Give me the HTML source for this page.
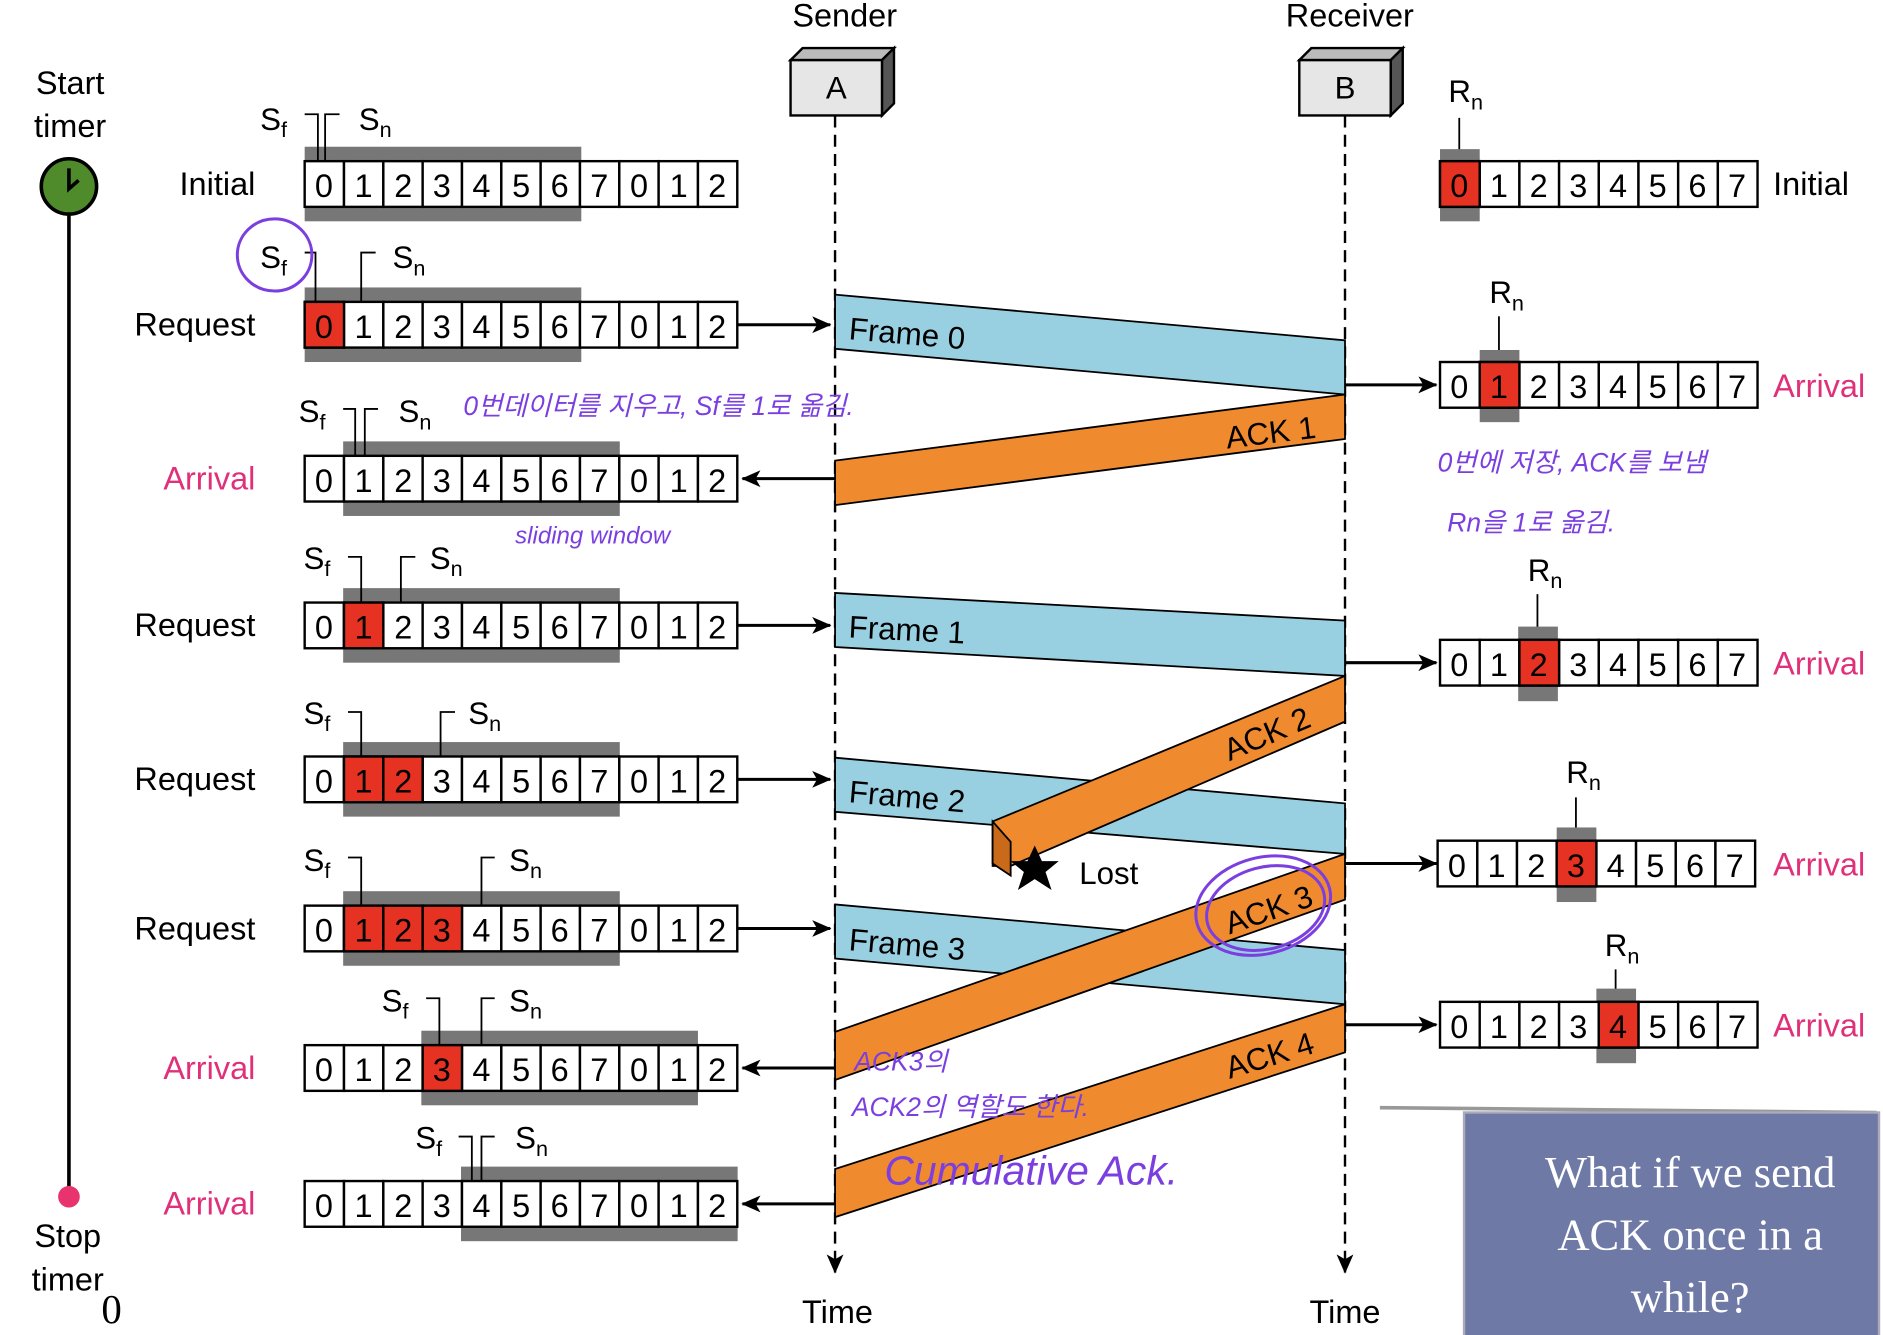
<!DOCTYPE html>
<html><head><meta charset="utf-8"><style>
html,body{margin:0;padding:0;background:#fff}
svg{display:block}
text{font-family:"Liberation Sans","Noto Sans CJK KR",sans-serif}
</style></head><body>
<svg width="1883" height="1335" viewBox="0 0 1565 1110" xmlns="http://www.w3.org/2000/svg">
<defs>
<marker id="ah2" markerWidth="16" markerHeight="14" refX="15" refY="7" orient="auto" markerUnits="userSpaceOnUse"><path d="M0,0 L16,7 L0,14 L4,7 Z" fill="#000"/></marker>
</defs>

<text x="58" y="78" font-size="27" text-anchor="middle">Start</text>
<text x="58" y="114" font-size="27" text-anchor="middle">timer</text>
<line x1="57" y1="160" x2="57" y2="995" stroke="#000" stroke-width="3"/>
<circle cx="57" cy="155" r="23" fill="#4f8a2b" stroke="#000" stroke-width="3"/>
<path d="M57,140 L57,157 L65,150" stroke="#000" stroke-width="3" fill="none"/>
<circle cx="57" cy="995" r="9" fill="#e8336f"/>
<text x="56" y="1037" font-size="27" text-anchor="middle">Stop</text>
<text x="56" y="1073" font-size="27" text-anchor="middle">timer</text>
<text x="84" y="1100" font-size="34" style="font-family:'Liberation Serif',serif">0</text>

<text x="702" y="22" font-size="27" text-anchor="middle">Sender</text>
<text x="1122" y="22" font-size="27" text-anchor="middle">Receiver</text>
<polygon points="657,50 667,40 743,40 733,50" fill="#bbb" stroke="#000" stroke-width="2"/>
<polygon points="733,50 743,40 743,86 733,96" fill="#555" stroke="#000" stroke-width="2"/>
<rect x="657" y="50" width="76" height="46" fill="#e6e6e6" stroke="#000" stroke-width="2"/>
<text x="695" y="82" font-size="26" text-anchor="middle">A</text>
<polygon points="1080,50 1090,40 1166,40 1156,50" fill="#bbb" stroke="#000" stroke-width="2"/>
<polygon points="1156,50 1166,40 1166,86 1156,96" fill="#555" stroke="#000" stroke-width="2"/>
<rect x="1080" y="50" width="76" height="46" fill="#e6e6e6" stroke="#000" stroke-width="2"/>
<text x="1118" y="82" font-size="26" text-anchor="middle">B</text>
<line x1="694" y1="96" x2="694" y2="1058" stroke="#000" stroke-width="2" stroke-dasharray="10,6" marker-end="url(#ah2)"/>
<line x1="1118" y1="96" x2="1118" y2="1058" stroke="#000" stroke-width="2" stroke-dasharray="10,6" marker-end="url(#ah2)"/>
<text x="696" y="1100" font-size="27" text-anchor="middle">Time</text>
<text x="1118" y="1100" font-size="27" text-anchor="middle">Time</text>

<g stroke="#000" stroke-width="1.5">
<polygon points="694,245 1118,283 1118,328 694,290" fill="#99d0e1"/>
<polygon points="694,493 1118,516 1118,562 694,538" fill="#99d0e1"/>
<polygon points="694,630 1118,668 1118,710 694,675" fill="#99d0e1"/>
<polygon points="694,752 1118,790 1118,835 694,797" fill="#99d0e1"/>
<polygon points="1118,328 1118,365 694,420 694,383" fill="#f08a2e"/>
<polygon points="1118,562 1118,600 840,720 825,720 825,683" fill="#f08a2e"/>
<polygon points="825,683 840,700 840,728 825,718" fill="#c86a1a"/>
<polygon points="1118,710 1118,748 694,898 694,858" fill="#f08a2e"/>
<polygon points="1118,835 1118,875 694,1012 694,972" fill="#f08a2e"/>
</g>
<g font-size="26">
<text x="705" y="282" transform="rotate(5 705 282)">Frame 0</text>
<text x="705" y="530" transform="rotate(3 705 530)">Frame 1</text>
<text x="705" y="667" transform="rotate(5 705 667)">Frame 2</text>
<text x="705" y="790" transform="rotate(5 705 790)">Frame 3</text>
<text x="1020" y="373" transform="rotate(-7 1020 373)">ACK 1</text>
<text x="1022" y="633" transform="rotate(-23 1022 633)">ACK 2</text>
<text x="1022" y="777" transform="rotate(-19 1022 777)">ACK 3</text>
<text x="1022" y="897" transform="rotate(-17 1022 897)">ACK 4</text>
<text x="897" y="735">Lost</text>
</g>
<polygon points="860,703 866,716 880,716 869,725 874,740 860,731 846,740 851,725 840,716 854,716" fill="#000"/>

<g fill="#777">
<rect x="253" y="122" width="230" height="62"/>
<rect x="253" y="239" width="230" height="62"/>
<rect x="285" y="367" width="230" height="62"/>
<rect x="285" y="489" width="230" height="62"/>
<rect x="285" y="617" width="230" height="62"/>
<rect x="285" y="741" width="230" height="62"/>
<rect x="350" y="857" width="230" height="62"/>
<rect x="383" y="970" width="230" height="62"/>
</g>

<g stroke="#000" stroke-width="2.5">
<line x1="613" y1="270" x2="690" y2="270" marker-end="url(#ah2)"/>
<line x1="613" y1="520" x2="690" y2="520" marker-end="url(#ah2)"/>
<line x1="613" y1="648" x2="690" y2="648" marker-end="url(#ah2)"/>
<line x1="613" y1="772" x2="690" y2="772" marker-end="url(#ah2)"/>
<line x1="694" y1="398" x2="617" y2="398" marker-end="url(#ah2)"/>
<line x1="694" y1="888" x2="617" y2="888" marker-end="url(#ah2)"/>
<line x1="694" y1="1001" x2="617" y2="1001" marker-end="url(#ah2)"/>
<line x1="1118" y1="320" x2="1194" y2="320" marker-end="url(#ah2)"/>
<line x1="1118" y1="551" x2="1194" y2="551" marker-end="url(#ah2)"/>
<line x1="1118" y1="718" x2="1194" y2="718" marker-end="url(#ah2)"/>
<line x1="1118" y1="852" x2="1194" y2="852" marker-end="url(#ah2)"/>
</g>

<g font-size="27" text-anchor="end">
<text x="212" y="162">Initial</text>
<text x="212" y="279">Request</text>
<text x="212" y="407" fill="#e0307a">Arrival</text>
<text x="212" y="529">Request</text>
<text x="212" y="657">Request</text>
<text x="212" y="781">Request</text>
<text x="212" y="897" fill="#e0307a">Arrival</text>
<text x="212" y="1010" fill="#e0307a">Arrival</text>
</g>
<g font-size="27">
<text x="1474" y="162">Initial</text>
<text x="1474" y="330" fill="#e0307a">Arrival</text>
<text x="1474" y="561" fill="#e0307a">Arrival</text>
<text x="1474" y="728" fill="#e0307a">Arrival</text>
<text x="1474" y="862" fill="#e0307a">Arrival</text>
</g>

<g font-size="26" stroke="#000" stroke-width="1.5" fill="none">
<path d="M253,95 H264 V133 M270,133 V95 H282"/>
<path d="M253,210 H262 V251 M300,251 V210 H312"/>
<path d="M285,340 H295 V379 M303,379 V340 H314"/>
<path d="M289,463 H300 V501 M333,501 V463 H345"/>
<path d="M289,592 H300 V629 M366,629 V592 H378"/>
<path d="M289,713 H300 V753 M400,753 V713 H411"/>
<path d="M354,830 H365 V869 M400,869 V830 H411"/>
<path d="M381,945 H392 V982 M400,982 V945 H411"/>
<path d="M1213,98 V135"/><path d="M1246,263 V302"/><path d="M1278,494 V533"/><path d="M1310,663 V700"/><path d="M1343,806 V834"/>
</g>
<g font-size="26">
<text x="216" y="108">S<tspan font-size="18" dy="6">f</tspan></text>
<text x="298" y="108">S<tspan font-size="18" dy="6">n</tspan></text>
<text x="216" y="223">S<tspan font-size="18" dy="6">f</tspan></text>
<text x="326" y="223">S<tspan font-size="18" dy="6">n</tspan></text>
<text x="248" y="351">S<tspan font-size="18" dy="6">f</tspan></text>
<text x="331" y="351">S<tspan font-size="18" dy="6">n</tspan></text>
<text x="252" y="473">S<tspan font-size="18" dy="6">f</tspan></text>
<text x="357" y="473">S<tspan font-size="18" dy="6">n</tspan></text>
<text x="252" y="602">S<tspan font-size="18" dy="6">f</tspan></text>
<text x="389" y="602">S<tspan font-size="18" dy="6">n</tspan></text>
<text x="252" y="724">S<tspan font-size="18" dy="6">f</tspan></text>
<text x="423" y="724">S<tspan font-size="18" dy="6">n</tspan></text>
<text x="317" y="841">S<tspan font-size="18" dy="6">f</tspan></text>
<text x="423" y="841">S<tspan font-size="18" dy="6">n</tspan></text>
<text x="345" y="955">S<tspan font-size="18" dy="6">f</tspan></text>
<text x="428" y="955">S<tspan font-size="18" dy="6">n</tspan></text>
<text x="1204" y="85">R<tspan font-size="18" dy="6">n</tspan></text>
<text x="1238" y="252">R<tspan font-size="18" dy="6">n</tspan></text>
<text x="1270" y="483">R<tspan font-size="18" dy="6">n</tspan></text>
<text x="1302" y="651">R<tspan font-size="18" dy="6">n</tspan></text>
<text x="1334" y="795">R<tspan font-size="18" dy="6">n</tspan></text>
</g>

<g fill="#777">
<rect x="1197" y="124" width="33" height="60"/>
<rect x="1230" y="291" width="33" height="60"/>
<rect x="1262" y="521" width="33" height="62"/>
<rect x="1294" y="688" width="33" height="62"/>
<rect x="1327" y="822" width="33" height="62"/>
</g>

<g stroke="#000" stroke-width="2" font-size="27" text-anchor="middle">
<g transform="translate(0,134)" id="r1">
<rect x="253" width="32.7" height="38" fill="#fff"/><rect x="285.7" width="32.7" height="38" fill="#fff"/><rect x="318.4" width="32.7" height="38" fill="#fff"/><rect x="351.1" width="32.7" height="38" fill="#fff"/><rect x="383.8" width="32.7" height="38" fill="#fff"/><rect x="416.5" width="32.7" height="38" fill="#fff"/><rect x="449.2" width="32.7" height="38" fill="#fff"/><rect x="481.9" width="32.7" height="38" fill="#fff"/><rect x="514.6" width="32.7" height="38" fill="#fff"/><rect x="547.3" width="32.7" height="38" fill="#fff"/><rect x="580" width="32.7" height="38" fill="#fff"/>
<g stroke="none" fill="#000"><text x="269" y="30">0</text><text x="302" y="30">1</text><text x="335" y="30">2</text><text x="367" y="30">3</text><text x="400" y="30">4</text><text x="433" y="30">5</text><text x="465" y="30">6</text><text x="498" y="30">7</text><text x="531" y="30">0</text><text x="564" y="30">1</text><text x="596" y="30">2</text></g>
</g>
<use href="#r1" transform="translate(0,117)"/>
<use href="#r1" transform="translate(0,245)"/>
<use href="#r1" transform="translate(0,367)"/>
<use href="#r1" transform="translate(0,495)"/>
<use href="#r1" transform="translate(0,619)"/>
<use href="#r1" transform="translate(0,735)"/>
<use href="#r1" transform="translate(0,848)"/>
<g fill="#e53222">
<rect x="253" y="251" width="32.7" height="38"/>
<rect x="285.7" y="501" width="32.7" height="38"/>
<rect x="285.7" y="629" width="32.7" height="38"/><rect x="318.4" y="629" width="32.7" height="38"/>
<rect x="285.7" y="753" width="32.7" height="38"/><rect x="318.4" y="753" width="32.7" height="38"/><rect x="351.1" y="753" width="32.7" height="38"/>
<rect x="351.1" y="869" width="32.7" height="38"/>
</g>
<g stroke="none" fill="#000">
<text x="269" y="281">0</text><text x="302" y="531">1</text><text x="302" y="659">1</text><text x="335" y="659">2</text><text x="302" y="783">1</text><text x="335" y="783">2</text><text x="367" y="783">3</text><text x="367" y="899">3</text>
</g>

<g transform="translate(0,134)" id="q1">
<rect x="1197" width="33" height="38" fill="#fff"/><rect x="1230" width="33" height="38" fill="#fff"/><rect x="1263" width="33" height="38" fill="#fff"/><rect x="1296" width="33" height="38" fill="#fff"/><rect x="1329" width="33" height="38" fill="#fff"/><rect x="1362" width="33" height="38" fill="#fff"/><rect x="1395" width="33" height="38" fill="#fff"/><rect x="1428" width="33" height="38" fill="#fff"/>
<g stroke="none" fill="#000"><text x="1213" y="30">0</text><text x="1246" y="30">1</text><text x="1279" y="30">2</text><text x="1312" y="30">3</text><text x="1345" y="30">4</text><text x="1378" y="30">5</text><text x="1411" y="30">6</text><text x="1444" y="30">7</text></g>
</g>
<use href="#q1" transform="translate(0,167)"/>
<use href="#q1" transform="translate(0,398)"/>
<use href="#q1" transform="translate(-2,565)"/>
<use href="#q1" transform="translate(0,699)"/>
<g fill="#e53222">
<rect x="1197" y="134" width="33" height="38"/>
<rect x="1230" y="301" width="33" height="38"/>
<rect x="1263" y="532" width="33" height="38"/>
<rect x="1294" y="699" width="33" height="38"/>
<rect x="1329" y="833" width="33" height="38"/>
</g>
<g stroke="none" fill="#000">
<text x="1213" y="164">0</text><text x="1246" y="331">1</text><text x="1279" y="562">2</text><text x="1310" y="729">3</text><text x="1345" y="863">4</text>
</g>
</g>

<g fill="#7b3fe0" stroke="none" font-size="22" font-style="italic">
<text x="385" y="345">0번데이터를 지우고, Sf를 1로 옮김.</text>
<text x="428" y="452" font-size="20">sliding window</text>
<text x="1195" y="392">0번에 저장, ACK를 보냄</text>
<text x="1203" y="442">Rn을 1로 옮김.</text>
<text x="710" y="890">ACK3의</text>
<text x="708" y="928">ACK2의 역할도 한다.</text>
<text x="735" y="985" font-size="34">Cumulative Ack.</text>
</g>
<g fill="none" stroke="#7b3fe0" stroke-width="2.5">
<ellipse cx="228" cy="212" rx="31" ry="30"/>
<ellipse cx="1050" cy="753" rx="57" ry="40" transform="rotate(-15 1050 753)"/>
<ellipse cx="1052" cy="755" rx="50" ry="34" transform="rotate(-15 1052 755)"/>
</g>

<line x1="1147" y1="921" x2="1560" y2="925" stroke="#999" stroke-width="3"/>
<rect x="1217" y="925" width="345" height="187" fill="#6e79a6" stroke="#aab" stroke-width="2"/>
<g fill="#fff" font-size="37" text-anchor="middle">
<text x="1405" y="987" style="font-family:'Liberation Serif',serif">What if we send</text>
<text x="1405" y="1039" style="font-family:'Liberation Serif',serif">ACK once in a</text>
<text x="1405" y="1091" style="font-family:'Liberation Serif',serif">while?</text>
</g>
</svg>
</body></html>
